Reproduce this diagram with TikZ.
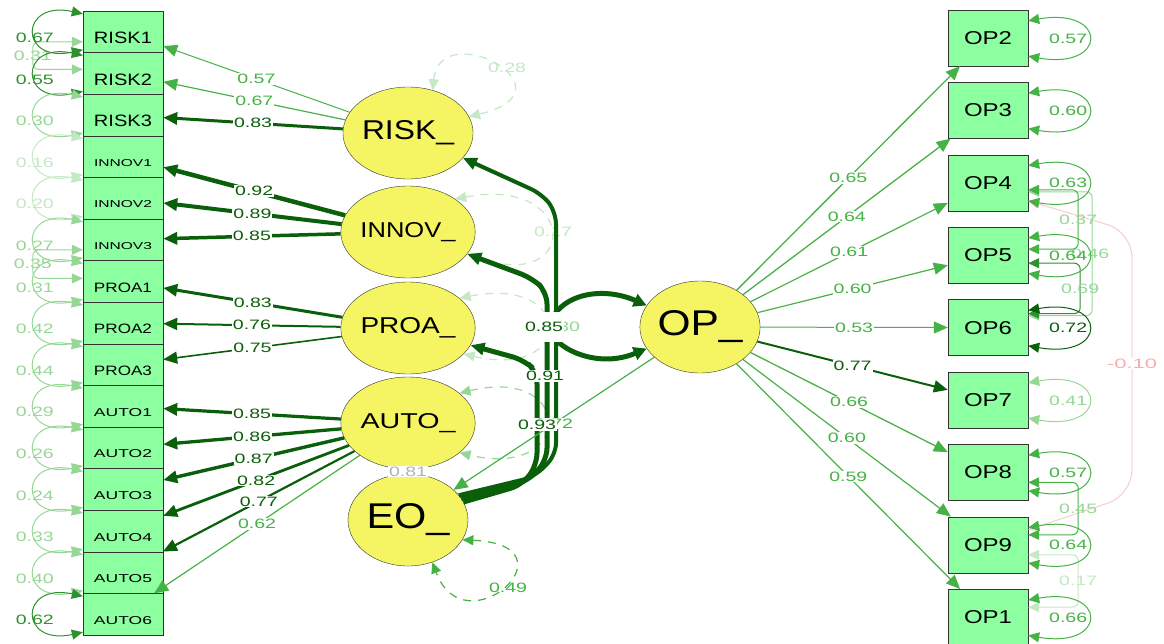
\documentclass[tikz,border=0pt]{standalone}
\usepackage{fontspec}
\setmainfont{Liberation Sans}
\usepackage{graphicx}
\usetikzlibrary{arrows.meta,shapes.geometric}

\definecolor{boxgreen}{RGB}{140,255,160}
\definecolor{latyellow}{RGB}{245,245,100}
\definecolor{gdark}{RGB}{10,95,10}
\definecolor{gmid}{RGB}{45,145,45}
\definecolor{glight}{RGB}{70,178,70}
\definecolor{gfade}{RGB}{150,215,150}
\definecolor{gpale}{RGB}{195,232,195}
\definecolor{covpink}{RGB}{245,205,205}

% stretched numbers as in the plot
\newcommand\elab[1]{\resizebox{38pt}{9.5pt}{#1}}

\tikzset{
  obsbox/.style={draw=black!80, fill=boxgreen, minimum width=80pt, minimum height=41.6pt, inner sep=0pt},
  opbox/.style={draw=black!80, fill=boxgreen, minimum width=80pt, minimum height=56pt, inner sep=0pt},
  latent/.style={ellipse, draw=black!80, fill=latyellow, minimum width=120pt, minimum height=92pt, inner sep=0pt},
  arr/.style={-{Triangle[length=14pt,width=12pt]}},
  dblarr/.style={{Triangle[length=11pt,width=10pt]}-{Triangle[length=11pt,width=10pt]}},
  resid/.style={dblarr, line width=1pt},
  dresid/.style={dblarr, line width=1.2pt, dash pattern=on 8pt off 7pt},
  lbl/.style={fill=white, inner sep=1pt},
  lblnf/.style={inner sep=1pt},
}

\begin{document}
\begin{tikzpicture}[x=1pt, y=-1pt]
\useasboundingbox (0,0) rectangle (1164,643);

% Indicators left
\foreach \n/\h [count=\i from 0] in {RISK1/11.5, RISK2/11.5, RISK3/11.5, INNOV1/7, INNOV2/7, INNOV3/7, PROA1/9.5, PROA2/9.5, PROA3/9.5, AUTO1/8, AUTO2/8, AUTO3/8, AUTO4/8, AUTO5/8, AUTO6/8}
  \node[obsbox] (\n) at (123, 31.8+41.6*\i) {\raisebox{\dimexpr-6pt-\h pt/2\relax}[0pt][0pt]{\resizebox{58pt}{\h pt}{\n}}};

% Indicators right
\foreach \n [count=\i from 0] in {OP2, OP3, OP4, OP5, OP6, OP7, OP8, OP9, OP1}
  \node[opbox] (\n) at (988, 38+72.4*\i) {\resizebox{48pt}{13pt}{\n}};

% Latents
\node[latent] (RISK) at (408,133) {\resizebox{92pt}{19pt}{RISK\_}};
\node[latent] (INNOV) at (408,232) {\resizebox{95pt}{15pt}{INNOV\_}};
\node[latent] (PROA) at (408,328) {\resizebox{95pt}{16pt}{PROA\_}};
\node[latent] (AUTO) at (408,423) {\resizebox{95pt}{15pt}{AUTO\_}};
\node[latent] (EO) at (408,520) {\resizebox{83pt}{25pt}{EO\_}};
\node[latent] (OP) at (700,327) {\resizebox{85pt}{25pt}{OP\_}};

% Covariances left
\draw[dblarr, gfade, line width=1pt, rounded corners=6pt] ([yshift=-10pt]RISK1.west) -- ++(-50,0) |- ([yshift=4pt]RISK2.west) node[lblnf, text=gfade, pos=0.25] {\elab{0.31}};
\draw[dblarr, gfade, line width=1pt, rounded corners=6pt] ([yshift=-10pt]INNOV3.west) -- ++(-50,0) |- ([yshift=3pt]PROA1.west) node[lblnf, text=gfade, pos=0.25] {\elab{0.35}};

% Covariances right
\draw[dblarr, covpink, line width=1pt, rounded corners=25pt] ([yshift=-18pt]OP4.east) -- (1132,232) -- (1132,495) node[lbl, text=covpink!85!red, midway] {\resizebox{50pt}{9.5pt}{-0.10}} -- ([yshift=15pt]OP9.east);
\draw[dblarr, gfade, line width=1pt, rounded corners=6pt] ([yshift=-9pt]OP4.east) -- ++(64,0) |- ([yshift=12pt]OP6.east) node[lblnf, text=gfade, pos=0.25, xshift=-2pt] {\elab{0.46}};
\draw[dblarr, glight, line width=1pt, rounded corners=6pt] ([yshift=-7pt]OP4.east) -- ++(50,0) |- ([yshift=6pt]OP5.east) node[lblnf, text=gfade, pos=0.25] {\elab{0.37}};
\draw[dblarr, gmid, line width=1pt, rounded corners=6pt] ([yshift=-8pt]OP5.east) -- ++(52,0) |- ([yshift=14pt]OP6.east) node[lblnf, text=gfade, pos=0.25] {\elab{0.69}};
\draw[dblarr, glight, line width=1pt, rounded corners=6pt] ([yshift=-10pt]OP8.east) -- ++(50,0) |- ([yshift=10pt]OP9.east) node[lblnf, text=gfade, pos=0.25] {\elab{0.45}};
\draw[dblarr, gpale, line width=1pt, rounded corners=6pt] ([yshift=-10pt]OP9.east) -- ++(50,0) |- ([yshift=10pt]OP1.east) node[lblnf, text=gpale, pos=0.25] {\elab{0.17}};

% Residuals left
\foreach \n/\v/\c in {RISK1/0.67/gmid, RISK2/0.55/gmid, RISK3/0.30/gfade, INNOV1/0.16/gpale, INNOV2/0.20/gpale, INNOV3/0.27/gfade, PROA1/0.31/gfade, PROA2/0.42/gfade, PROA3/0.44/gfade, AUTO1/0.29/gfade, AUTO2/0.26/gfade, AUTO3/0.24/gfade, AUTO4/0.33/gfade, AUTO5/0.40/gfade, AUTO6/0.62/gmid}
  \draw[resid, \c] ([yshift=-3pt]\n.north west) .. controls +(-64,-14) and +(-64,14) .. ([yshift=3pt]\n.south west) node[lblnf, text=\c, pos=0.5, yshift=-6pt] {\elab{\v}};

% Residuals right
\foreach \n/\v/\c in {OP2/0.57/glight, OP3/0.60/glight, OP4/0.63/glight, OP5/0.64/glight, OP6/0.72/gdark, OP7/0.41/gfade, OP8/0.57/glight, OP9/0.64/glight, OP1/0.66/glight}
  \draw[resid, \c] ([yshift=-11pt]\n.north east) .. controls +(80,-14) and +(80,14) .. ([yshift=10pt]\n.south east) node[lblnf, text=\c, pos=0.5, xshift=-20pt] {\elab{\v}};

% Loadings left
\foreach \f/\n/\v/\c/\w in {RISK/RISK1/0.57/glight/1, RISK/RISK2/0.67/glight/1.2, RISK/RISK3/0.83/gdark/3, INNOV/INNOV1/0.92/gdark/4.5, INNOV/INNOV2/0.89/gdark/4, INNOV/INNOV3/0.85/gdark/3.5, PROA/PROA1/0.83/gdark/3, PROA/PROA2/0.76/gdark/2, PROA/PROA3/0.75/gdark/1.6, AUTO/AUTO1/0.85/gdark/3.2, AUTO/AUTO2/0.86/gdark/3.3, AUTO/AUTO3/0.87/gdark/3.4, AUTO/AUTO4/0.82/gdark/2.8, AUTO/AUTO5/0.77/gdark/2.2, AUTO/AUTO6/0.62/glight/1.2}
  \draw[arr, \c, line width=\w pt] (\f) -- (\n) node[lbl, text=\c, midway] {\elab{\v}};

% Loadings right
\foreach \n/\v/\c/\w in {OP2/0.65/glight/1.3, OP3/0.64/glight/1.3, OP4/0.61/glight/1.2, OP5/0.60/glight/1.2, OP6/0.53/glight/1, OP7/0.77/gdark/2, OP8/0.66/glight/1.3, OP9/0.60/glight/1.2, OP1/0.59/glight/1.2}
  \draw[arr, \c, line width=\w pt] (OP) -- (\n) node[lbl, text=\c, midway] {\elab{\v}};

% Latent residuals
\draw[dresid, gpale] (RISK.60) .. controls (440,15) and (580,90) .. (RISK.15);
\node[lblnf, text=gpale] (vrisk) at (507,68) {\elab{0.28}};
\draw[dresid, gpale] (INNOV.35) .. controls (580,175) and (580,295) .. (INNOV.340);
\node[lblnf, text=gpale] (vinnov) at (553,232) {\elab{0.17}};
\draw[dresid, gpale] (PROA.30) .. controls (575,275) and (575,380) .. (PROA.335);
\draw[dresid, gfade] (AUTO.30) .. controls (575,365) and (575,480) .. (AUTO.330);
\draw[dresid, glight] (EO.340) .. controls (580,545) and (465,650) .. (EO.300);
\node[lblnf, text=glight] (veo) at (508,588) {\elab{0.49}};
\draw[gdark, line width=5pt, {Triangle[length=13pt,width=13pt]}-{Triangle[length=13pt,width=13pt]}] (OP.158) .. controls (600,285) and (555,295) .. (548,330) .. controls (560,352) and (600,368) .. (OP.202);

% Second order paths
\draw[arr, gdark, line width=4pt, rounded corners=12pt] (EO.26) -- (534,477) -- (556,455) -- (556,212) -- (542,194) -- (RISK);
\draw[arr, gdark, line width=5pt, rounded corners=12pt] (EO.22) -- (528,481) -- (547,460) -- (547,292) -- (532,278) -- (INNOV);
\draw[arr, gdark, line width=5pt, rounded corners=12pt] (EO.18) -- (522,485) -- (537,465) -- (537,372) -- (524,360) -- (PROA);
\draw[gdark, line width=3pt] (EO) -- (AUTO) node[lbl, text=black!30, midway] {\elab{0.81}};
\draw[arr, glight, line width=1.2pt] (OP) -- (EO) node[lbl, text=glight, midway] {\elab{0.72}};

% Overlapping labels
\node[lbl, text=gfade, inner ysep=10pt] (vproa) at (561,327) {\elab{0.30}};
\node[lbl, text=gdark, inner ysep=10pt] (brisk) at (544,327) {\elab{0.85}};
\node[lbl, text=gdark] (binnov) at (545,376) {\elab{0.91}};
\node[lbl, text=gdark] (bproa) at (537,425) {\elab{0.93}};
\end{tikzpicture}
\end{document}
